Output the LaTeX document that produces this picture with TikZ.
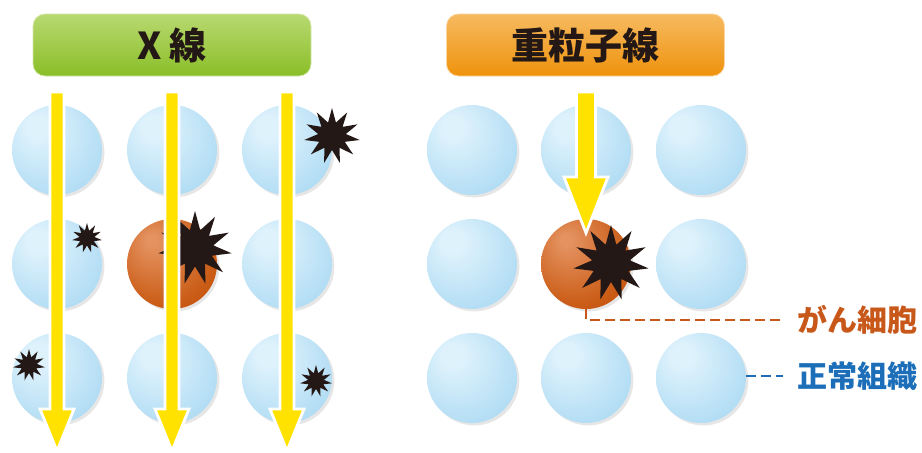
\documentclass[tikz,border=0pt]{standalone}
\usepackage{fontspec}
\newfontfamily\jpfont{Noto Sans CJK JP}
\usetikzlibrary{shapes.geometric, shadows}

\definecolor{xgreentop}{RGB}{184,217,112}
\definecolor{xgreenbot}{RGB}{138,190,40}
\definecolor{iontop}{RGB}{246,186,96}
\definecolor{ionbot}{RGB}{239,146,12}
\definecolor{rayyellow}{RGB}{255,226,0}
\definecolor{burstcol}{RGB}{35,24,21}
\definecolor{cellhi}{RGB}{222,242,252}
\definecolor{cellout}{RGB}{166,215,242}
\definecolor{cellrim}{RGB}{150,205,236}
\definecolor{canhi}{RGB}{228,146,96}
\definecolor{canout}{RGB}{202,92,22}
\definecolor{canrim}{RGB}{182,70,6}
\definecolor{canlabel}{RGB}{200,88,26}
\definecolor{normlabel}{RGB}{28,110,184}

% ball-like shadings, light spot up left
\pgfdeclareradialshading{cellball}{\pgfpoint{-12bp}{14bp}}{color(0bp)=(cellhi); color(6bp)=(cellhi); color(40bp)=(cellout); color(52bp)=(cellrim); color(60bp)=(cellrim)}
\pgfdeclareradialshading{cancerball}{\pgfpoint{-12bp}{14bp}}{color(0bp)=(canhi); color(3bp)=(canhi); color(30bp)=(canout); color(50bp)=(canrim); color(60bp)=(canrim)}

\tikzset{
        cell/.style={circle, inner sep=0pt, minimum size=45pt, shading=cellball,
                drop shadow={opacity=.2, shadow xshift=1.2pt, shadow yshift=-1.2pt}},
        cancer/.style={cell, shading=cancerball},
        hit/.style={star, star points=11, star point ratio=2, inner sep=0pt,
                fill=burstcol, minimum size=#1},
        beam/.style={fill=rayyellow, draw=white, line width=1.4pt},
        title/.style={rounded corners=6pt, minimum width=139pt, minimum height=31pt,
                text=burstcol, font=\jpfont\bfseries\fontsize{18.5}{18.5}\selectfont},
        tag/.style={anchor=west, inner sep=0pt, font=\jpfont\bfseries\fontsize{15}{15}\selectfont},
        lead/.style={line width=1.2pt, dash pattern=on 5pt off 2.5pt}
        }

% x, top, tip, half shaft, half head, head length
\newcommand{\drawray}[6]{%
  \filldraw[beam] (#1-#4,#2) -- (#1+#4,#2) -- (#1+#4,#3-#6) -- (#1+#5,#3-#6)
    -- (#1,#3) -- (#1-#5,#3-#6) -- (#1-#4,#3-#6) -- cycle;}

\begin{document}
\begin{tikzpicture}[x=0.5pt, y=-0.5pt]
        \useasboundingbox (0,0) rectangle (922,452);

        \node[title, top color=xgreentop, bottom color=xgreenbot, draw=xgreentop!60!white](xtitle) at (172,45){X 線};
        \node[title, top color=iontop, bottom color=ionbot, draw=iontop!60!white](ctitle) at (585.5,45){重粒子線};

        % tissue, left (x) and right (p)
        \foreach \r/\y in {1/150,2/264,3/378}
          \foreach \c/\xl/\xr in {1/57/472,2/172/586,3/287/701}{
            \ifnum\r\c=22
              \node[cancer](x\r\c) at (\xl,\y){};
              \node[cancer](p\r\c) at (\xr,\y){};
            \else
              \node[cell](x\r\c) at (\xl,\y){};
              \node[cell](p\r\c) at (\xr,\y){};
            \fi
          }

        \node[hit=28pt](h1) at (332,136){};
        \node[hit=15pt](h2) at (87,238){};
        \node[hit=37pt](h3) at (195,248){};
        \node[hit=16pt](h4) at (29,365){};
        \node[hit=16pt](h5) at (316,381){};
        \node[hit=38pt](h6) at (611,263){};

        \drawray{57}{92}{451}{7}{17}{42}
        \drawray{172}{92}{451}{7}{17}{42}
        \drawray{287}{92}{451}{7}{17}{42}
        \drawray{586}{92}{233}{9.5}{22}{56}

        \node[tag, text=canlabel](canlbl) at (797,320){がん細胞};
        \node[tag, text=normlabel](normlbl) at (797,376){正常組織};
        \draw[lead, canlabel] (p22.south) |- ([xshift=-7pt]canlbl.west);
        \draw[lead, normlabel] (normlbl.west -| p33.east) -- ([xshift=-7pt]normlbl.west);
\end{tikzpicture}
\end{document}
